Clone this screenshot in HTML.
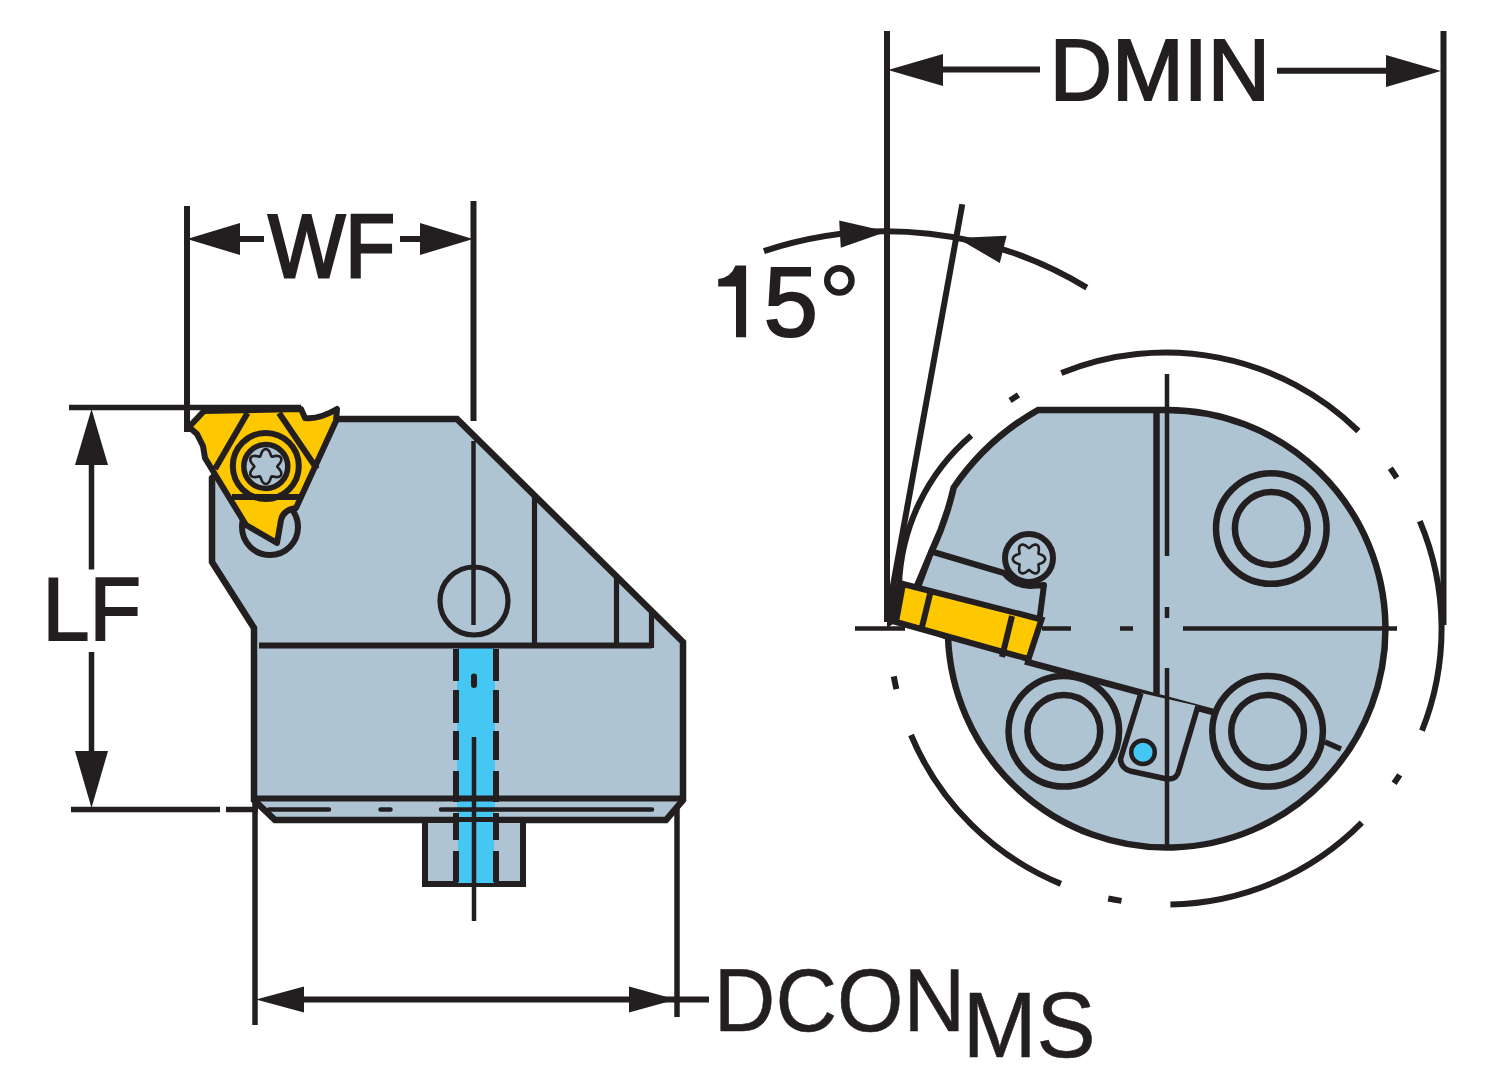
<!DOCTYPE html><html><head><meta charset="utf-8"><style>html,body{margin:0;padding:0;background:#fff;width:1500px;height:1085px;overflow:hidden}svg{display:block}</style></head><body><svg width="1500" height="1085" viewBox="0 0 1500 1085" font-family="'Liberation Sans', sans-serif"><polygon points="336,419 457,419 683,642 683,800 666,820 275,820 254,800 254,628 212,562 212,478 250,440" fill="#aec4d2" stroke="#231f20" stroke-width="6.5" stroke-linejoin="miter"/>
<rect x="457" y="645" width="38" height="239" fill="#44c7f2"/>
<rect x="425" y="820" width="98" height="64" fill="#aec4d2" stroke="#231f20" stroke-width="6"/>
<rect x="458" y="822" width="36" height="61" fill="#44c7f2"/>
<line x1="259" y1="645.5" x2="651.5" y2="645.5" stroke="#231f20" stroke-width="6" />
<line x1="651.5" y1="613" x2="651.5" y2="648" stroke="#231f20" stroke-width="5.2" />
<line x1="534.5" y1="497" x2="534.5" y2="645" stroke="#231f20" stroke-width="5.2" />
<line x1="616.5" y1="578" x2="616.5" y2="645" stroke="#231f20" stroke-width="5.2" />
<line x1="473.5" y1="441" x2="473.5" y2="625" stroke="#231f20" stroke-width="4.5" />
<circle cx="474" cy="601" r="34" fill="none" stroke="#231f20" stroke-width="5.2"/>
<line x1="254" y1="798.5" x2="683" y2="798.5" stroke="#231f20" stroke-width="6" />
<path d="M269 809.5 H329 M380.5 809.5 H390.5 M441 809.5 H652" stroke="#231f20" stroke-width="4.5" stroke-linecap="round"/>
<path d="M456 649 V681 M456 690 V723 M456 731 V760 M456 771 V802 M456 813 V840 M456 851 V882 M496 649 V681 M496 690 V723 M496 731 V760 M496 771 V802 M496 813 V840 M496 851 V882" stroke="#231f20" stroke-width="6"/>
<line x1="474" y1="676.5" x2="474" y2="685" stroke="#231f20" stroke-width="6" stroke-linecap="round"/>
<line x1="474" y1="737" x2="474" y2="921" stroke="#231f20" stroke-width="4.5" />
<circle cx="270" cy="527" r="28" fill="#aec4d2" stroke="#231f20" stroke-width="6"/>
<path d="M189 427 L204 411 L301 409 L305 418 Q318 420 337 409 L336 421 L296 508 Q283 510 281 520 L277 543 L246 525 L205 458 L203 446 L197 434 Z" fill="#fdc800" stroke="#231f20" stroke-width="6" stroke-linejoin="round"/>
<line x1="247.5" y1="413" x2="215" y2="469" stroke="#231f20" stroke-width="6" />
<line x1="279" y1="413" x2="317" y2="469" stroke="#231f20" stroke-width="6" />
<line x1="232" y1="497" x2="300" y2="497" stroke="#231f20" stroke-width="6" />
<circle cx="265.8" cy="466" r="33" fill="none" stroke="#231f20" stroke-width="6"/>
<circle cx="265.8" cy="466.5" r="22" fill="#aec4d2" stroke="#231f20" stroke-width="5.5"/>
<path d="M265.8 449.0 L266.9 449.2 L268.0 449.9 L268.9 450.8 L269.7 452.1 L270.2 453.4 L270.7 454.7 L271.1 455.8 L271.6 456.5 L272.4 456.6 L273.6 456.4 L274.9 456.1 L276.4 455.9 L277.8 456.0 L279.1 456.3 L280.2 456.9 L281.0 457.8 L281.3 458.8 L281.3 460.1 L280.9 461.4 L280.2 462.6 L279.4 463.8 L278.5 464.8 L277.7 465.7 L277.3 466.5 L277.7 467.3 L278.5 468.2 L279.4 469.2 L280.2 470.4 L280.9 471.6 L281.3 472.9 L281.3 474.2 L281.0 475.2 L280.2 476.1 L279.1 476.7 L277.8 477.0 L276.4 477.1 L274.9 476.9 L273.6 476.6 L272.4 476.4 L271.6 476.5 L271.1 477.2 L270.7 478.3 L270.2 479.6 L269.7 480.9 L268.9 482.2 L268.0 483.1 L266.9 483.8 L265.8 484.0 L264.7 483.8 L263.6 483.1 L262.7 482.2 L261.9 480.9 L261.4 479.6 L260.9 478.3 L260.5 477.2 L260.1 476.5 L259.2 476.4 L258.0 476.6 L256.7 476.9 L255.2 477.1 L253.8 477.0 L252.5 476.7 L251.4 476.1 L250.6 475.2 L250.3 474.2 L250.3 472.9 L250.7 471.6 L251.4 470.4 L252.2 469.2 L253.1 468.2 L253.9 467.3 L254.3 466.5 L253.9 465.7 L253.1 464.8 L252.2 463.8 L251.4 462.6 L250.7 461.4 L250.3 460.1 L250.3 458.8 L250.6 457.8 L251.4 456.9 L252.5 456.3 L253.8 456.0 L255.2 455.9 L256.7 456.1 L258.0 456.4 L259.2 456.6 L260.1 456.5 L260.5 455.8 L260.9 454.7 L261.4 453.4 L261.9 452.1 L262.7 450.8 L263.6 449.9 L264.7 449.2Z" fill="none" stroke="#231f20" stroke-width="2.6"/>
<line x1="69" y1="407.5" x2="301" y2="407.5" stroke="#231f20" stroke-width="5.5" />
<line x1="71" y1="809.5" x2="220" y2="809.5" stroke="#231f20" stroke-width="5.5" />
<line x1="226" y1="809.5" x2="258" y2="809.5" stroke="#231f20" stroke-width="5.5" />
<line x1="91.5" y1="460" x2="91.5" y2="569.5" stroke="#231f20" stroke-width="5.5" />
<line x1="91.5" y1="652" x2="91.5" y2="760" stroke="#231f20" stroke-width="5.5" />
<polygon points="91.5,409.0 108.0,465.0 75.0,465.0" fill="#231f20"/>
<polygon points="91.5,808.0 75.0,751.0 108.0,751.0" fill="#231f20"/>
<line x1="187" y1="206" x2="187" y2="432" stroke="#231f20" stroke-width="6" />
<line x1="473.5" y1="201" x2="473.5" y2="421" stroke="#231f20" stroke-width="6" />
<line x1="235" y1="239" x2="264" y2="239" stroke="#231f20" stroke-width="6" />
<line x1="400" y1="239" x2="430" y2="239" stroke="#231f20" stroke-width="6" />
<polygon points="187.0,239.0 240.0,223.0 240.0,255.0" fill="#231f20"/>
<polygon points="473.0,239.0 420.0,255.0 420.0,223.0" fill="#231f20"/>
<line x1="255" y1="800" x2="255" y2="1025" stroke="#231f20" stroke-width="5.5" />
<line x1="677" y1="807" x2="677" y2="1017" stroke="#231f20" stroke-width="5.5" />
<line x1="300" y1="999.5" x2="709" y2="999.5" stroke="#231f20" stroke-width="6" />
<polygon points="256.0,999.5 304.0,986.5 304.0,1012.5" fill="#231f20"/>
<polygon points="676.0,999.5 629.0,1012.5 629.0,986.5" fill="#231f20"/>
<path d="M1038 410 L1165.0 410 A218.8 218.8 0 1 1 948 637 L910 622 L917 586 L931.5 551.5 Q946 521 953.7 487.5 A254 254 0 0 1 1038 410 Z" fill="#aec4d2" stroke="#231f20" stroke-width="6.5"/>
<line x1="1156.5" y1="410" x2="1156.5" y2="694" stroke="#231f20" stroke-width="6.5" />
<line x1="1157" y1="694" x2="1157" y2="848" stroke="#231f20" stroke-width="0" />
<line x1="1025" y1="661.3" x2="1213" y2="712" stroke="#231f20" stroke-width="6.5" />
<path d="M1167 374 V556 M1167 607 V618" stroke="#231f20" stroke-width="4.5"/>
<path d="M855 628.5 H905 M1042 628.5 H1071 M1120 628.5 H1133 M1183 628.5 H1397" stroke="#231f20" stroke-width="4.5"/>
<circle cx="1271.3" cy="528.5" r="55.3" fill="none" stroke="#231f20" stroke-width="6.5"/>
<circle cx="1271.3" cy="528.5" r="36.4" fill="none" stroke="#231f20" stroke-width="6.5"/>
<circle cx="1063.8" cy="731.3" r="55.3" fill="none" stroke="#231f20" stroke-width="6.5"/>
<circle cx="1063.8" cy="731.3" r="36.4" fill="none" stroke="#231f20" stroke-width="6.5"/>
<circle cx="1267.6" cy="731.3" r="55.3" fill="none" stroke="#231f20" stroke-width="6.5"/>
<circle cx="1267.6" cy="731.3" r="36.4" fill="none" stroke="#231f20" stroke-width="6.5"/>
<line x1="1325" y1="742" x2="1341" y2="749" stroke="#231f20" stroke-width="5.5" />
<path d="M1141 693 L1120.5 759 Q1121 768 1130 771 L1167 779 Q1177 780 1179 770 L1198 706" fill="#aec4d2" stroke="#231f20" stroke-width="5.5" stroke-linejoin="round"/>
<circle cx="1143" cy="752.3" r="11.8" fill="#44c7f2" stroke="#231f20" stroke-width="4.5"/>
<line x1="1167" y1="668" x2="1167" y2="848" stroke="#231f20" stroke-width="4.5" />
<path d="M931.5 551.5 L1004 573 Q1015 586 1030 586 L1044 585 L1039 623 L917 590 Z" fill="#aec4d2" stroke="#231f20" stroke-width="6" stroke-linejoin="round"/>
<circle cx="1029" cy="558" r="24" fill="#aec4d2" stroke="#231f20" stroke-width="6"/>
<path d="M1029.0 548.0 L1029.7 547.6 L1030.6 547.0 L1031.5 546.2 L1032.6 545.5 L1033.8 544.9 L1035.0 544.6 L1036.1 544.6 L1037.1 545.0 L1037.9 545.7 L1038.5 546.6 L1038.8 547.8 L1038.9 549.1 L1038.8 550.4 L1038.6 551.6 L1038.5 552.7 L1038.5 553.5 L1039.2 554.0 L1040.2 554.4 L1041.3 554.8 L1042.5 555.4 L1043.6 556.1 L1044.4 557.0 L1045.0 558.0 L1045.2 559.0 L1045.0 560.0 L1044.4 561.0 L1043.6 561.9 L1042.5 562.6 L1041.3 563.2 L1040.2 563.6 L1039.2 564.0 L1038.5 564.5 L1038.5 565.3 L1038.6 566.4 L1038.8 567.6 L1038.9 568.9 L1038.8 570.2 L1038.5 571.4 L1037.9 572.3 L1037.1 573.0 L1036.1 573.4 L1035.0 573.4 L1033.8 573.1 L1032.6 572.5 L1031.5 571.8 L1030.6 571.0 L1029.7 570.4 L1029.0 570.0 L1028.3 570.4 L1027.4 571.0 L1026.5 571.8 L1025.4 572.5 L1024.2 573.1 L1023.0 573.4 L1021.9 573.4 L1020.9 573.0 L1020.1 572.3 L1019.5 571.4 L1019.2 570.2 L1019.1 568.9 L1019.2 567.6 L1019.4 566.4 L1019.5 565.3 L1019.5 564.5 L1018.8 564.0 L1017.8 563.6 L1016.7 563.2 L1015.5 562.6 L1014.4 561.9 L1013.6 561.0 L1013.0 560.0 L1012.8 559.0 L1013.0 558.0 L1013.6 557.0 L1014.4 556.1 L1015.5 555.4 L1016.7 554.8 L1017.8 554.4 L1018.8 554.0 L1019.5 553.5 L1019.5 552.7 L1019.4 551.6 L1019.2 550.4 L1019.1 549.1 L1019.2 547.8 L1019.5 546.6 L1020.1 545.7 L1020.9 545.0 L1021.9 544.6 L1023.0 544.6 L1024.2 544.9 L1025.4 545.5 L1026.5 546.2 L1027.4 547.0 L1028.3 547.6Z" fill="none" stroke="#231f20" stroke-width="2.6"/>
<polygon points="903,584 1041.5,619.5 1028.5,659 896,622" fill="#fdc800" stroke="#231f20" stroke-width="6" stroke-linejoin="miter"/>
<line x1="931" y1="590" x2="922" y2="627" stroke="#231f20" stroke-width="6" />
<line x1="1012" y1="616" x2="1002" y2="657" stroke="#231f20" stroke-width="6" />
<polygon points="887,586 903,584 896,622 887,628" fill="#231f20"/>
<line x1="887" y1="31" x2="887" y2="622" stroke="#231f20" stroke-width="6" />
<line x1="1443.5" y1="31" x2="1443.5" y2="625" stroke="#231f20" stroke-width="6" />
<line x1="940" y1="69.5" x2="1040" y2="69.5" stroke="#231f20" stroke-width="6" />
<line x1="1277" y1="70.8" x2="1390" y2="70.8" stroke="#231f20" stroke-width="6" />
<polygon points="888.0,70.0 943.0,54.0 943.0,86.0" fill="#231f20"/>
<polygon points="1441.0,71.0 1386.0,87.0 1386.0,55.0" fill="#231f20"/>
<line x1="962.3" y1="204.3" x2="890" y2="602" stroke="#231f20" stroke-width="6" />
<path d="M763.9 251.2 A386.4 386.4 0 0 1 1086.8 287.6" fill="none" stroke="#231f20" stroke-width="6"/>
<polygon points="887.0,231.4 840.8,247.8 839.2,220.6" fill="#231f20"/>
<polygon points="957.0,238.0 1006.6,235.8 999.8,263.0" fill="#231f20"/>
<path d="M1061.3 373.0 A276 276 0 0 1 1358.4 431.0 M1390.3 468.2 A276 276 0 0 1 1396.8 477.8 M1419.8 521.1 A276 276 0 0 1 1422.0 730.6 M1399.7 774.8 A276 276 0 0 1 1394.1 783.2 M1361.8 822.6 A276 276 0 0 1 1170.4 904.5 M1121.5 900.9 A276 276 0 0 1 1108.2 898.5 M1060.9 883.9 A276 276 0 0 1 911.0 735.0 M896.4 689.2 A276 276 0 0 1 893.8 676.4 M1010.1 400.5 A276 276 0 0 1 1018.5 395.0 M899 586 A206 206 0 0 1 971.3 435.5" fill="none" stroke="#231f20" stroke-width="6"/>
<text transform="translate(268.31 276.91) scale(0.8149 0.8944)" font-size="100" fill="#231f20" stroke="#231f20" stroke-width="3.131">WF</text>
<text transform="translate(42.59 639.50) scale(0.8439 0.8986)" font-size="100" fill="#231f20" stroke="#231f20" stroke-width="2.226">LF</text>
<text transform="translate(1049.66 100.44) scale(0.8622 0.8634)" font-size="100" fill="#231f20" stroke="#231f20" stroke-width="2.316">DMIN</text>
<text transform="translate(713.77 1030.61) scale(0.8534 0.8944)" font-size="100" fill="#231f20" stroke="#231f20" stroke-width="0.559">DCON</text>
<text transform="translate(962.71 1056.58) scale(0.8862 0.9225)" font-size="100" fill="#231f20" stroke="#231f20" stroke-width="0.650">MS</text>
<text transform="translate(763.68 335.74) scale(0.9740 0.9778)" font-size="100" fill="#231f20" stroke="#231f20" stroke-width="2.250">5</text>
<path d="M735.5 265.4 H746.1 V337.3 H736 V286.6 H718.2 V278.9 Q731 277.5 735.5 265.4 Z" fill="#231f20"/>
<circle cx="839.35" cy="280.45" r="12.2" fill="none" stroke="#231f20" stroke-width="6.4"/></svg></body></html>
